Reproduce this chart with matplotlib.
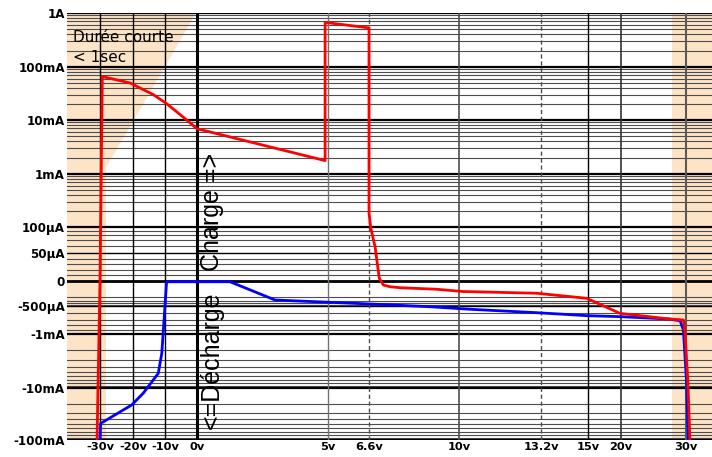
import numpy as np
import matplotlib
matplotlib.use("Agg")
import matplotlib.pyplot as plt
from matplotlib.patches import Polygon

# ---- data (volts, amps) ----
red_v = [-30.9, -30.0, -29.3, -20.9, -13.6, -9.5, -5.3, -2.2, 0.0, 4.89, 4.89, 6.6,
         6.6, 6.66, 6.83, 6.93, 6.99, 7.14, 7.39, 7.77, 9.15, 10.15, 13.03, 14.95,
         19.85, 27.5, 29.6, 29.85, 30.3, 30.6]
red_i = [-0.1, 0.0, 0.066, 0.050, 0.030, 0.0204, 0.0127, 0.0089, 0.0069, 0.00177, 0.67, 0.53,
         184e-6, 100e-6, 59e-6, 25.5e-6, 4.8e-6, -16e-6, -22.8e-6, -26.8e-6, -33e-6, -42e-6,
         -49e-6, -121e-6, -600e-6, -690e-6, -707e-6, -980e-6, -8.1e-3, -0.1]

blue_v = [-30.0, -29.8, -20.4, -16.8, -12.1, -11.0, -10.3, -9.5, 1.26, 2.98, 5.08, 6.64,
          8.9, 10.43, 13.03, 14.95, 19.85, 27.5, 29.1, 29.6, 30.1, 30.35]
blue_i = [-0.1, -0.048, -0.0212, -0.0126, -0.00535, -0.00227, -707e-6, -3e-6, -3e-6,
          -166e-6, -253e-6, -346e-6, -509e-6, -542e-6, -590e-6, -635e-6, -651e-6,
          -690e-6, -721e-6, -906e-6, -8.1e-3, -0.1]

x_ticks = [-30, -20, -10, 0, 5, 6.6, 10, 13.2, 15, 20, 30]
x_labels = ["-30v", "-20v", "-10v", "0v", "5v", "6.6v", "10v", "13.2v", "15v", "20v", "30v"]

y_ticks = [-0.1, -0.01, -1e-3, -500e-6, 0.0, 50e-6, 100e-6, 1e-3, 10e-3, 0.1, 1.0]
y_labels = ["-100mA", "-10mA", "-1mA", "-500µA", "0", "50µA", "100µA", "1mA", "10mA", "100mA", "1A"]

# ---- piecewise scales (positions in pixels of the original chart) ----
x_anchor = [-40] + x_ticks + [34]
x_pos = [67, 100, 133, 165, 197, 328, 369, 459, 541, 588, 621, 686, 712]
y_pos = [457 - p for p in [440, 388, 334, 306, 281, 253, 227, 174, 120, 67, 13]]

L = 50e-6


def g(i):
    i = np.asarray(i, dtype=float)
    a = np.abs(i)
    return np.where(a >= L, np.sign(i) * (1 + np.log10(np.maximum(a, L) / L)), i / L)


def ginv(u):
    u = np.asarray(u, dtype=float)
    a = np.abs(u)
    return np.where(a >= 1, np.sign(u) * L * 10 ** (np.maximum(a, 1) - 1), u * L)


gy = g(y_ticks)


def fwd_y(y):
    return np.interp(g(y), gy, y_pos)


def inv_y(p):
    return ginv(np.interp(p, y_pos, gy))


def fwd_x(x):
    return np.interp(np.asarray(x, dtype=float), x_anchor, x_pos)


def inv_x(p):
    return np.interp(np.asarray(p, dtype=float), x_pos, x_anchor)


fig = plt.figure(figsize=(7.12, 4.57), dpi=100)
ax = fig.add_axes([67 / 712, 17 / 457, 645 / 712, 427 / 457])
ax.set_xscale('function', functions=(fwd_x, inv_x))
ax.set_yscale('function', functions=(fwd_y, inv_y))
ax.set_xlim(-40, 34)
ax.set_ylim(-0.1, 1.0)

# shaded zones
shade = '#fde4c6'
ax.axvspan(-40, -28.2, color=shade, lw=0, zorder=0)
ax.axvspan(27.85, 34, color=shade, lw=0, zorder=0)
ax.add_patch(Polygon([(-28.2, 1.0), (-0.3, 1.0), (-28.2, 1.3e-3)], closed=True,
                     facecolor=shade, lw=0, zorder=0))

# horizontal grid
minor = []
for d in [1e-4, 1e-3, 1e-2, 1e-1]:
    minor += [m * d for m in range(2, 10)]
minor += [60e-6, 70e-6, 80e-6, 90e-6, 10e-6, 20e-6, 30e-6, 40e-6]
minor += [-100e-6, -200e-6, -300e-6, -400e-6, -600e-6, -700e-6, -800e-6, -900e-6]
for d in [1e-3, 1e-2]:
    minor += [-m * d for m in range(2, 10)]
for y in minor:
    ax.axhline(y, color='0.3', lw=0.8, zorder=1)
for y in y_ticks:
    lw = 2.0 if y == 0 else (1.0 if y in (50e-6, -500e-6) else 1.6)
    ax.axhline(y, color='black', lw=lw, zorder=1.5)

# vertical grid
vstyle = {-30: ('black', 1.0, '-'), -20: ('black', 1.0, '-'), -10: ('black', 1.0, '-'),
          0: ('black', 2.2, '-'), 5: ('0.45', 1.0, '-'), 6.6: ('0.3', 1.0, (0, (3, 2))),
          10: ('0.3', 1.2, '-'), 13.2: ('0.3', 1.0, (0, (3, 2))), 15: ('black', 1.0, '-'),
          20: ('0.2', 1.2, '-'), 30: ('0.35', 1.5, '-')}
for x in x_ticks:
    c, lw, ls = vstyle[x]
    ax.axvline(x, color=c, lw=lw, ls=ls, zorder=1.6)

# curves
ax.plot(blue_v, blue_i, color='#0000ff', lw=2, zorder=3)
ax.plot(red_v, red_i, color='#ff0000', lw=2, zorder=3)

ax.set_xticks(x_ticks)
ax.set_xticklabels(x_labels, fontsize=8.2, fontweight='bold')
ax.set_yticks(y_ticks)
ax.set_yticklabels(y_labels, fontsize=8.6, fontweight='bold')
ax.minorticks_off()
ax.tick_params(axis='x', length=0, pad=1.5)
ax.tick_params(axis='y', length=0, pad=1.5)
for s in ax.spines.values():
    s.set_visible(False)

fig.text(73 / 712, 1 - 38 / 457, "Durée courte", fontsize=11, va='center', ha='left')
fig.text(73 / 712, 1 - 58 / 457, "< 1sec", fontsize=11, va='center', ha='left')

narrow = ['Liberation Sans Narrow', 'Liberation Sans', 'DejaVu Sans']
fig.text(212 / 712, 1 - 212 / 457, "Charge =>", rotation=90, fontsize=18,
         family=narrow, ha='center', va='center')
fig.text(212 / 712, 1 - 360 / 457, "<=Décharge", rotation=90, fontsize=18,
         family=narrow, ha='center', va='center')

fig.savefig("out.png", dpi=100)
